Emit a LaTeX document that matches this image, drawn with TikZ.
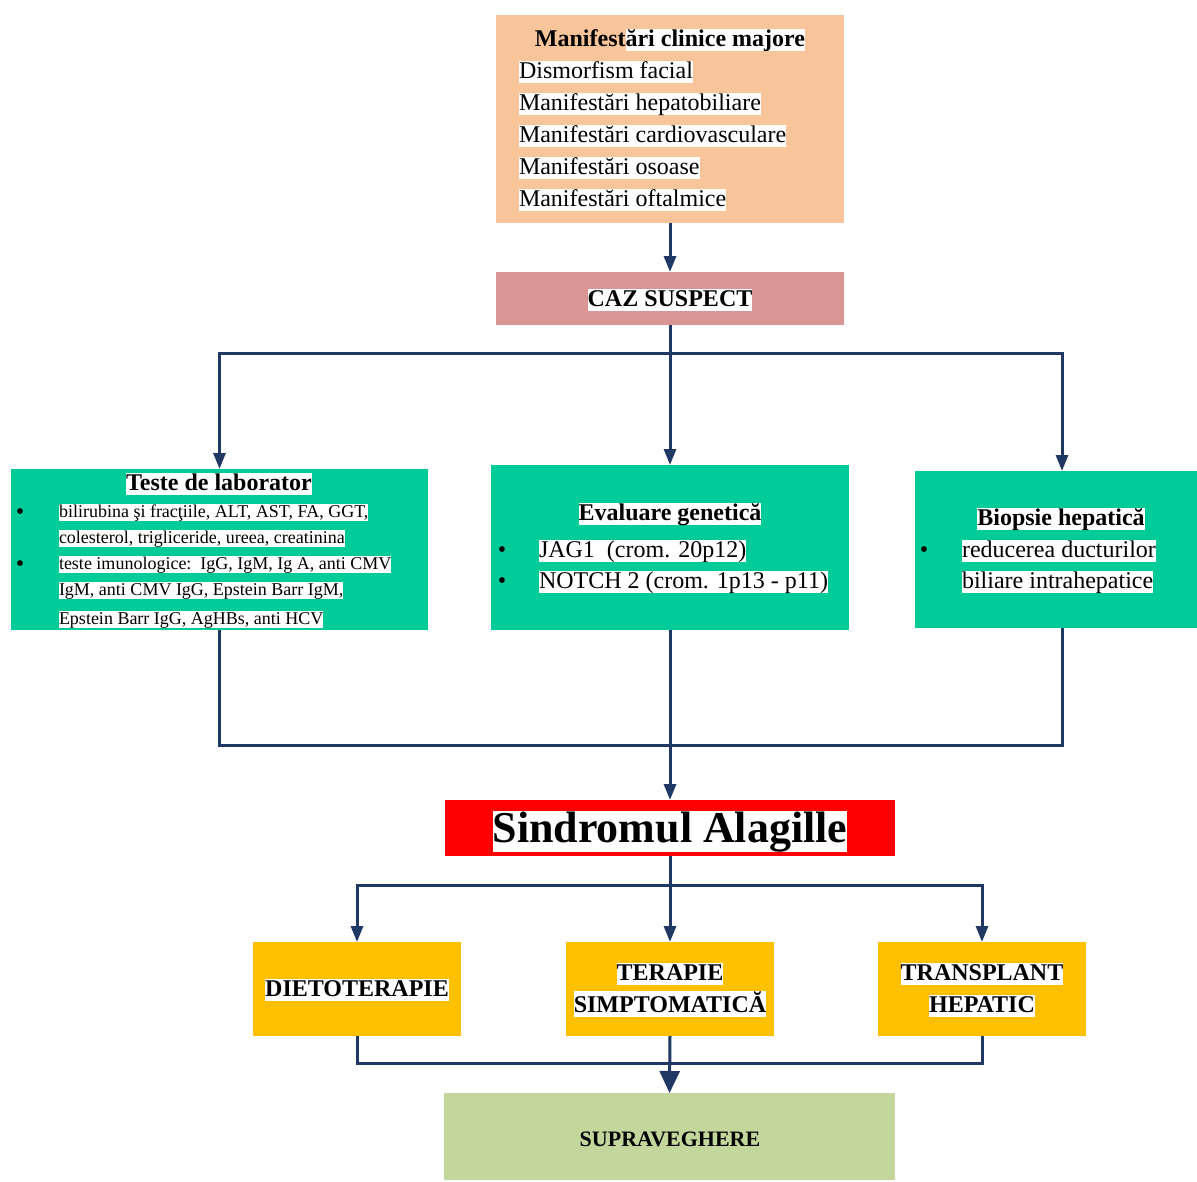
\documentclass[tikz,border=0pt]{standalone}
\usepackage{fontspec}
\setmainfont{Liberation Serif}
\usetikzlibrary{arrows.meta}
\definecolor{peach}{HTML}{F8C49A}
\definecolor{rose}{HTML}{D99694}
\definecolor{teal}{HTML}{00CC99}
\definecolor{redbox}{HTML}{FF0000}
\definecolor{amber}{HTML}{FFC000}
\definecolor{sage}{HTML}{C3D69B}
\definecolor{navy}{HTML}{1F3864}
\newcommand\hlt[1]{{\setlength{\fboxsep}{0pt}\colorbox{white}{\rule[-0.22em]{0pt}{0.92em}#1}}}
\tikzset{
  box/.style={inner sep=0, outer sep=0, anchor=north west, draw=none},
  txt/.style={inner sep=0, outer sep=0, font=\fontsize{24}{29}\selectfont},
  small/.style={inner sep=0, outer sep=0, font=\fontsize{18}{22}\selectfont},
  ln/.style={draw=navy, line width=3pt},
  arr/.style={draw=navy, line width=3pt, -{Triangle[length=16pt,width=12pt]}},
  bigarr/.style={draw=navy, line width=3pt, -{Triangle[length=22pt,width=20pt]}}
}
\begin{document}
\begin{tikzpicture}[x=1pt,y=-1pt]
\useasboundingbox (0,0) rectangle (1197,1181);
% boxes
\node[box, fill=peach, minimum width=348pt, minimum height=208pt] (top) at (496,15) {};
\node[box, fill=rose, minimum width=348pt, minimum height=53pt] (caz) at (496,272) {};
\node[box, fill=teal, minimum width=417pt, minimum height=161pt] (lab) at (11,469) {};
\node[box, fill=teal, minimum width=358pt, minimum height=165pt] (gen) at (491,465) {};
\node[box, fill=teal, minimum width=282pt, minimum height=157pt] (bio) at (915,471) {};
\node[box, fill=redbox, minimum width=450pt, minimum height=56pt] (sin) at (445,800) {};
\node[box, fill=amber, minimum width=208pt, minimum height=94pt] (diet) at (253,942) {};
\node[box, fill=amber, minimum width=208pt, minimum height=94pt] (ter) at (566,942) {};
\node[box, fill=amber, minimum width=208pt, minimum height=94pt] (tra) at (878,942) {};
\node[box, fill=sage, minimum width=451pt, minimum height=87pt] (sup) at (444,1093) {};

% top box text
\node[txt, anchor=base, font=\fontsize{24}{29}\selectfont\bfseries] (t0) at (670,46) {Manifest\hlt{ări clinice majore}};
\node[txt, anchor=base west] (t1) at (519,78) {\hlt{Dismorfism facial}};
\node[txt, anchor=base west] (t2) at (519,110) {\hlt{Manifestări hepatobiliare}};
\node[txt, anchor=base west] (t3) at (519,142) {\hlt{Manifestări cardiovasculare}};
\node[txt, anchor=base west] (t4) at (519,174) {\hlt{Manifestări osoase}};
\node[txt, anchor=base west] (t5) at (519,206) {\hlt{Manifestări oftalmice}};

\node[txt, anchor=base, font=\fontsize{24}{29}\selectfont\bfseries] (cazt) at (670,306) {\hlt{CAZ SUSPECT}};

% lab
\node[txt, anchor=base, font=\fontsize{24}{29}\selectfont\bfseries] (labt) at (219,490) {\hlt{Teste de laborator}};
\node[txt, anchor=base] (lb1) at (20,519) {•};
\node[txt, anchor=base] (lb2) at (20,571) {•};
\node[small, anchor=base west] (l1) at (59,517) {\hlt{bilirubina şi fracţiile, ALT, AST, FA, GGT,}};
\node[small, anchor=base west] (l2) at (59,543) {\hlt{colesterol, trigliceride, ureea, creatinina}};
\node[small, anchor=base west] (l3) at (59,569) {\hlt{teste imunologice:\ \ IgG, IgM, Ig\ A, anti CMV}};
\node[small, anchor=base west] (l4) at (59,595) {\hlt{IgM, anti CMV IgG, Epstein Barr IgM,}};
\node[small, anchor=base west] (l5) at (59,624) {\hlt{Epstein Barr IgG, AgHBs, anti HCV}};

% genetic
\node[txt, anchor=base, font=\fontsize{24}{29}\selectfont\bfseries] (gent) at (670,520) {\hlt{Evaluare genetică}};
\node[txt, anchor=base] (gb1) at (502,557) {•};
\node[txt, anchor=base] (gb2) at (502,588) {•};
\node[txt, anchor=base west] (g1) at (539,557) {\hlt{JAG1\ \ (crom. 20p12)}};
\node[txt, anchor=base west] (g2) at (539,588) {\hlt{NOTCH 2 (crom. 1p13 - p11)}};

% biopsie
\node[txt, anchor=base, font=\fontsize{24}{29}\selectfont\bfseries] (biot) at (1061,525) {\hlt{Biopsie hepatică}};
\node[txt, anchor=base] (bb1) at (924,557) {•};
\node[txt, anchor=base west] (b1) at (962,557) {\hlt{reducerea ducturilor}};
\node[txt, anchor=base west] (b2) at (962,588) {\hlt{biliare intrahepatice}};

% sindrom
\node[txt, anchor=base, font=\fontsize{44}{50}\selectfont\bfseries] (sint) at (670,842) {\hlt{Sindromul Alagille}};

% therapy
\node[txt, anchor=base, font=\fontsize{24}{29}\selectfont\bfseries] (dt) at (357,996) {\hlt{DIETOTERAPIE}};
\node[txt, anchor=base, font=\fontsize{24}{29}\selectfont\bfseries] (tt1) at (670,980) {\hlt{TERAPIE}};
\node[txt, anchor=base, font=\fontsize{24}{29}\selectfont\bfseries] (tt2) at (670,1012) {\hlt{SIMPTOMATICĂ}};
\node[txt, anchor=base, font=\fontsize{24}{29}\selectfont\bfseries] (rt1) at (982,980) {\hlt{TRANSPLANT}};
\node[txt, anchor=base, font=\fontsize{24}{29}\selectfont\bfseries] (rt2) at (982,1012) {\hlt{HEPATIC}};
\node[txt, anchor=base, font=\fontsize{22}{26}\selectfont\bfseries] (st) at (670,1146) {SUPRAVEGHERE};

% connectors
\coordinate (j1) at (670,353);
\coordinate (j2) at (670,745);
\coordinate (j3) at (670,885);
\coordinate (j4) at (670,1063);
\draw[arr] (top.south) -- (caz.north);
\draw[ln] (caz.south) -- (j1);
\draw[arr] (j1) -| (lab.north);
\draw[arr] (j1) -- (gen.north);
\draw[arr] (j1) -| ([xshift=6pt]bio.north);
\draw[ln] (lab.south) |- (j2);
\draw[ln] ([xshift=6pt]bio.south) |- (j2);
\draw[arr] (gen.south) -- (sin.north);
\draw[ln] (sin.south) -- (j3);
\draw[arr] (j3) -| (diet.north);
\draw[arr] (j3) -- (ter.north);
\draw[arr] (j3) -| (tra.north);
\draw[ln] (diet.south) |- (j4);
\draw[ln] (tra.south) |- (j4);
\draw[bigarr] (ter.south) -- (sup.north);
\end{tikzpicture}
\end{document}
